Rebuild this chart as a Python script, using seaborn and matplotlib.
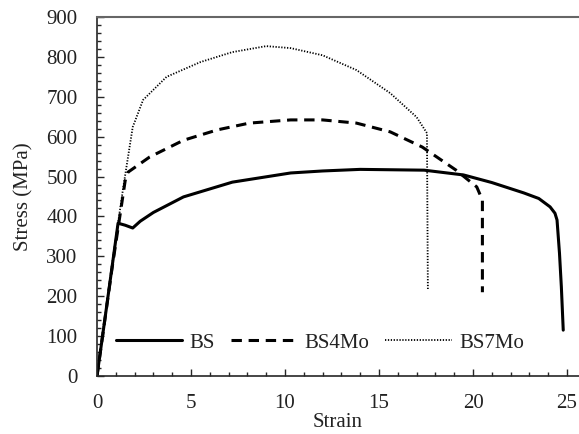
import matplotlib
matplotlib.use("Agg")
import matplotlib.pyplot as plt
import seaborn as sns
import pandas as pd
from matplotlib.ticker import MultipleLocator

bs_strain = [0, 0.5, 1.12, 1.5, 1.9, 2.3, 3.0, 4.6, 7.2, 10.3, 12.0, 14.0, 17.4, 19.5, 21.0, 22.7, 23.5, 24.1, 24.36, 24.47, 24.6, 24.7, 24.8]
bs_stress = [0, 170, 383, 378, 371, 388, 410, 449, 486, 509, 514, 518, 516, 504, 485, 459, 445, 424, 408, 391, 308, 223, 115]

mo4_strain = [0, 0.8, 1.5, 1.65, 2.8, 4.6, 6.4, 8.1, 10.3, 12.0, 13.8, 15.6, 17.3, 19.1, 20.2, 20.5, 20.5]
mo4_stress = [0, 270, 490, 511, 549, 591, 617, 634, 642, 642, 634, 612, 574, 516, 474, 441, 210]

mo7_strain = [0, 0.8, 1.4, 1.9, 2.45, 3.7, 5.5, 7.2, 9.0, 10.3, 12.0, 13.8, 15.6, 17.0, 17.55, 17.6]
mo7_stress = [0, 280, 474, 624, 692, 750, 787, 812, 827, 822, 804, 767, 709, 649, 609, 216]

series_names = ["BS", "BS4Mo", "BS7Mo"]

sns.set_theme(style="ticks")
plt.rcParams["font.family"] = ["Liberation Serif", "DejaVu Serif"]

fig = plt.figure(figsize=(5.79, 4.34), dpi=100)
ax = fig.add_axes([97/579, 1-376/434, 1-97/579, (376-17)/434])

styles = {
    "BS": dict(linestyle="-", linewidth=2.2),
    "BS4Mo": dict(linestyle=(0, (3.4, 2.2)), linewidth=2.2),
    "BS7Mo": dict(linestyle=(0, (0.7, 0.9)), linewidth=1.3),
}
data = {"BS": (bs_strain, bs_stress), "BS4Mo": (mo4_strain, mo4_stress), "BS7Mo": (mo7_strain, mo7_stress)}
for name in series_names:
    xs, ys = data[name]
    df = pd.DataFrame({"Strain": xs, "Stress": ys})
    sns.lineplot(data=df, x="Strain", y="Stress", sort=False, estimator=None,
                 color="black", ax=ax, label=name, **styles[name])

ax.set_xlim(0, (579-97)/18.8)
ax.set_ylim(0, 900)
ax.xaxis.set_major_locator(MultipleLocator(5))
ax.xaxis.set_minor_locator(MultipleLocator(1))
ax.yaxis.set_major_locator(MultipleLocator(100))
ax.yaxis.set_minor_locator(MultipleLocator(20))
ax.tick_params(which="major", direction="in", length=5, width=1, labelsize=15, labelcolor="#222222")
ax.tick_params(axis="y", which="major", pad=14)
ax.tick_params(axis="x", which="major", pad=13)
ax.tick_params(which="minor", direction="in", length=3, width=1)
ax.spines["right"].set_visible(False)
ax.spines["top"].set_color("#666666")
ax.spines["top"].set_linewidth(1.5)
ax.spines["left"].set_linewidth(1.2)
ax.spines["bottom"].set_linewidth(1.2)
ax.set_xlabel("Strain", fontsize=15, labelpad=0, color="#222222")
ax.set_ylabel("Stress (MPa)", fontsize=15, labelpad=9, color="#222222")

leg = ax.legend(loc="center left", bbox_to_anchor=(0.0, 0.092), ncol=3, frameon=False,
                fontsize=15, handlelength=3.2, handletextpad=0.35, columnspacing=0.75)
for t in leg.get_texts():
    t.set_color("#222222")

fig.savefig("out.png", dpi=100)
